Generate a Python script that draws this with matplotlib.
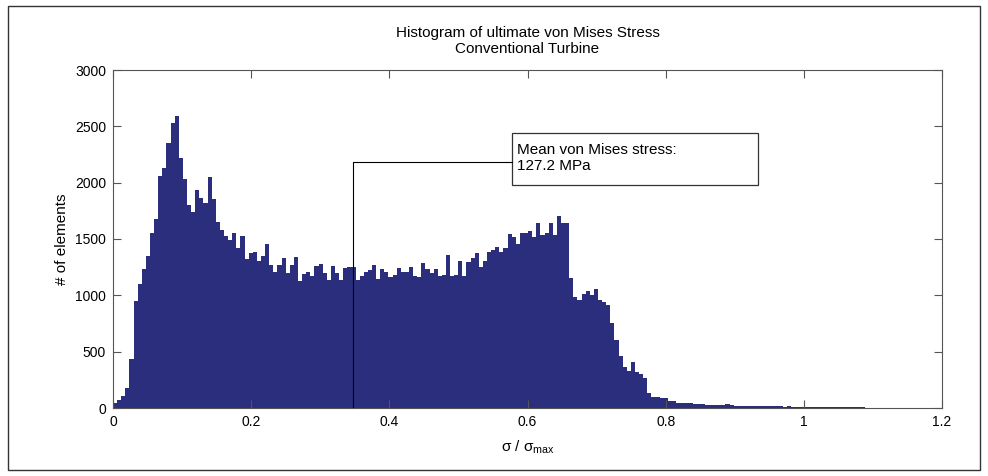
import matplotlib.pyplot as plt
from matplotlib.patches import Rectangle
import numpy as np

plt.rcParams['font.family'] = ['Liberation Sans', 'DejaVu Sans']
plt.rcParams['mathtext.fontset'] = 'custom'
plt.rcParams['mathtext.rm'] = 'Liberation Sans'
plt.rcParams['mathtext.it'] = 'Liberation Sans'

# histogram data (counts per bin, bins of equal width starting at 0)
bin_width = 0.00595
counts = [
    42, 71, 107, 175, 432, 952, 1101, 1231, 1349, 1550,
    1678, 2062, 2133, 2349, 2527, 2592, 2216, 2030, 1799, 1740,
    1935, 1861, 1817, 2053, 1852, 1654, 1577, 1530, 1491, 1550,
    1417, 1527, 1325, 1373, 1388, 1308, 1349, 1456, 1272, 1210,
    1269, 1334, 1201, 1272, 1343, 1130, 1187, 1210, 1172, 1260,
    1278, 1201, 1136, 1260, 1201, 1136, 1240, 1254, 1254, 1136,
    1172, 1210, 1225, 1269, 1142, 1231, 1210, 1160, 1180, 1240,
    1210, 1210, 1249, 1172, 1160, 1284, 1231, 1201, 1231, 1172,
    1180, 1355, 1172, 1180, 1305, 1172, 1299, 1328, 1379, 1249,
    1308, 1388, 1402, 1426, 1385, 1417, 1544, 1521, 1456, 1550,
    1550, 1574, 1521, 1639, 1536, 1556, 1645, 1536, 1707, 1645,
    1639, 1151, 988, 959, 1012, 1040, 1000, 1054, 959, 944,
    914, 752, 604, 462, 367, 331, 411, 322, 300, 264,
    136, 101, 101, 86, 86, 65, 65, 47, 47, 41,
    40, 35, 35, 33, 30, 28, 25, 24, 30, 35,
    24, 18, 20, 18, 22, 18, 20, 18, 22, 18,
    16, 20, 15, 12, 14, 12, 10, 12, 10, 10,
    9, 10, 8, 10, 9, 8, 10, 9, 8, 9,
    8, 7, 8,
]
mean_ratio = 0.3478
mean_label = 'Mean von Mises stress:\n127.2 MPa'

x_ticks = [0, 0.2, 0.4, 0.6, 0.8, 1, 1.2]
x_tick_labels = ['0', '0.2', '0.4', '0.6', '0.8', '1', '1.2']
y_ticks = [0, 500, 1000, 1500, 2000, 2500, 3000]

edges = np.arange(len(counts) + 1) * bin_width

fig = plt.figure(figsize=(9.88, 4.76), dpi=100)
ax = fig.add_axes([113 / 988, 1 - 408 / 476, 829 / 988, 338 / 476])

ax.stairs(counts, edges, fill=True, color='#2b2e7c', linewidth=0)

ax.set_xlim(0, 1.2)
ax.set_ylim(0, 3000)
ax.set_xticks(x_ticks)
ax.set_xticklabels(x_tick_labels)
ax.set_yticks(y_ticks)
ax.tick_params(direction='in', length=5.5, width=0.8, color='#555555',
               labelsize=10, top=True, right=True, pad=5)
for sp in ax.spines.values():
    sp.set_color('#555555')
    sp.set_linewidth(0.8)

ax.set_title('Histogram of ultimate von Mises Stress\nConventional Turbine',
             fontsize=11, pad=12, linespacing=1.2)
ax.set_xlabel(r'σ / σ$_{\mathrm{max}}$', fontsize=11, labelpad=7)
ax.set_ylabel('# of elements', fontsize=11, labelpad=4)

# annotation: connector from the mean down to the axis and a text box
box_x0, box_x1 = 0.5774, 0.9334
box_y0, box_y1 = 1979, 2441
hook_y = 2183
ax.plot([mean_ratio, mean_ratio, box_x0], [0, hook_y, hook_y],
        color='black', linewidth=0.8, clip_on=False)
ax.add_patch(Rectangle((box_x0, box_y0), box_x1 - box_x0, box_y1 - box_y0,
                       facecolor='white', edgecolor='#333333', linewidth=0.9))
ax.text(box_x0 + 0.008, (box_y0 + box_y1) / 2 + 10, mean_label,
        fontsize=11, va='center', ha='left', linespacing=1.2)

# outer frame around the figure
fig.patches.append(Rectangle((8 / 988, 6 / 476), 972 / 988, 464 / 476,
                             transform=fig.transFigure, fill=False,
                             edgecolor='#333333', linewidth=1.0))

plt.savefig('out.png', dpi=100)
